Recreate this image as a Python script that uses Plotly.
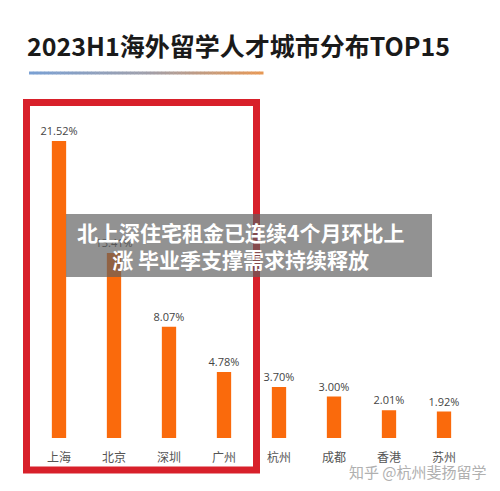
import plotly.graph_objects as go

cities = ["上海", "北京", "深圳", "广州", "杭州", "成都", "香港", "苏州"]
shares = [21.52, 13.41, 8.07, 4.78, 3.70, 3.00, 2.01, 1.92]
value_labels = ["21.52%", "13.41%", "8.07%", "4.78%", "3.70%", "3.00%", "2.01%", "1.92%"]

title_text = "2023H1海外留学人才城市分布TOP15"
overlay_text = "北上深住宅租金已连续4个月环比上<br>涨 毕业季支撑需求持续释放"
watermark = "知乎 @杭州斐扬留学"

W, H = 500, 491
def px(x):
    return x / W
def py(y):
    return 1 - y / H

FONT = "Noto Sans CJK SC, Noto Sans, sans-serif"

fig = go.Figure()
fig.add_trace(go.Bar(
    x=cities, y=shares,
    marker=dict(color="#fa6a0c", line=dict(width=0)),
    text=value_labels, textposition="outside", constraintext="none",
    textfont=dict(size=11, color="#444", family="Open Sans, Noto Sans, sans-serif"),
    cliponaxis=False,
    width=0.26,
))

shapes = []
# gradient underline below title
c0 = (122, 160, 212)
c1 = (160, 160, 172)
c2 = (232, 152, 84)
N = 60
x0, x1 = 29, 263
for i in range(N):
    t = (i + 0.5) / N
    if t < 0.5:
        u = t / 0.5
        c = tuple(int(c0[k] + (c1[k] - c0[k]) * u) for k in range(3))
    else:
        u = (t - 0.5) / 0.5
        c = tuple(int(c1[k] + (c2[k] - c1[k]) * u) for k in range(3))
    xa = x0 + (x1 - x0) * i / N
    xb = x0 + (x1 - x0) * (i + 1) / N
    shapes.append(dict(type="line", xref="paper", yref="paper",
                       x0=px(xa), x1=px(xb + 0.5), y0=py(73), y1=py(73),
                       line=dict(color="rgb(%d,%d,%d)" % c, width=3)))
# red highlight box
shapes.append(dict(type="rect", xref="paper", yref="paper",
                   x0=px(26.5), x1=px(256.5), y0=py(102.5), y1=py(470),
                   line=dict(color="#d8202a", width=7), layer="above"))
# gray overlay banner
shapes.append(dict(type="rect", xref="paper", yref="paper",
                   x0=px(66), x1=px(432), y0=py(214), y1=py(277),
                   fillcolor="rgba(95,95,95,0.68)", line=dict(width=0), layer="above"))

annotations = [
    dict(text="<b>" + title_text + "</b>", xref="paper", yref="paper",
         x=px(25), y=py(45), xanchor="left", yanchor="middle", showarrow=False,
         font=dict(size=25, color="#1a1a1a", family=FONT)),
    dict(text="<b>" + overlay_text + "</b>", xref="paper", yref="paper",
         x=px(240), y=py(246), xanchor="center", yanchor="middle", showarrow=False,
         align="center", font=dict(size=21, color="white", family=FONT)),
    dict(text=watermark, xref="paper", yref="paper",
         x=px(418), y=py(471), xanchor="center", yanchor="middle", showarrow=False,
         font=dict(size=15, color="#b0b0b0", family=FONT)),
]

fig.update_layout(
    width=W, height=H,
    margin=dict(l=0, r=0, t=0, b=0, autoexpand=False),
    paper_bgcolor="white", plot_bgcolor="white",
    showlegend=False,
    bargap=0.74,
    shapes=shapes,
    annotations=annotations,
    xaxis=dict(domain=[px(31.5), px(471.5)], showgrid=False, zeroline=False,
               showline=False, ticks="outside", ticklen=9, tickcolor="rgba(0,0,0,0)",
               tickfont=dict(size=12, color="#555", family=FONT), fixedrange=True),
    yaxis=dict(domain=[py(438), py(100)], range=[0, 24.5], showgrid=False,
               zeroline=False, showline=False, showticklabels=False, fixedrange=True),
)

fig.write_html("out.html")
